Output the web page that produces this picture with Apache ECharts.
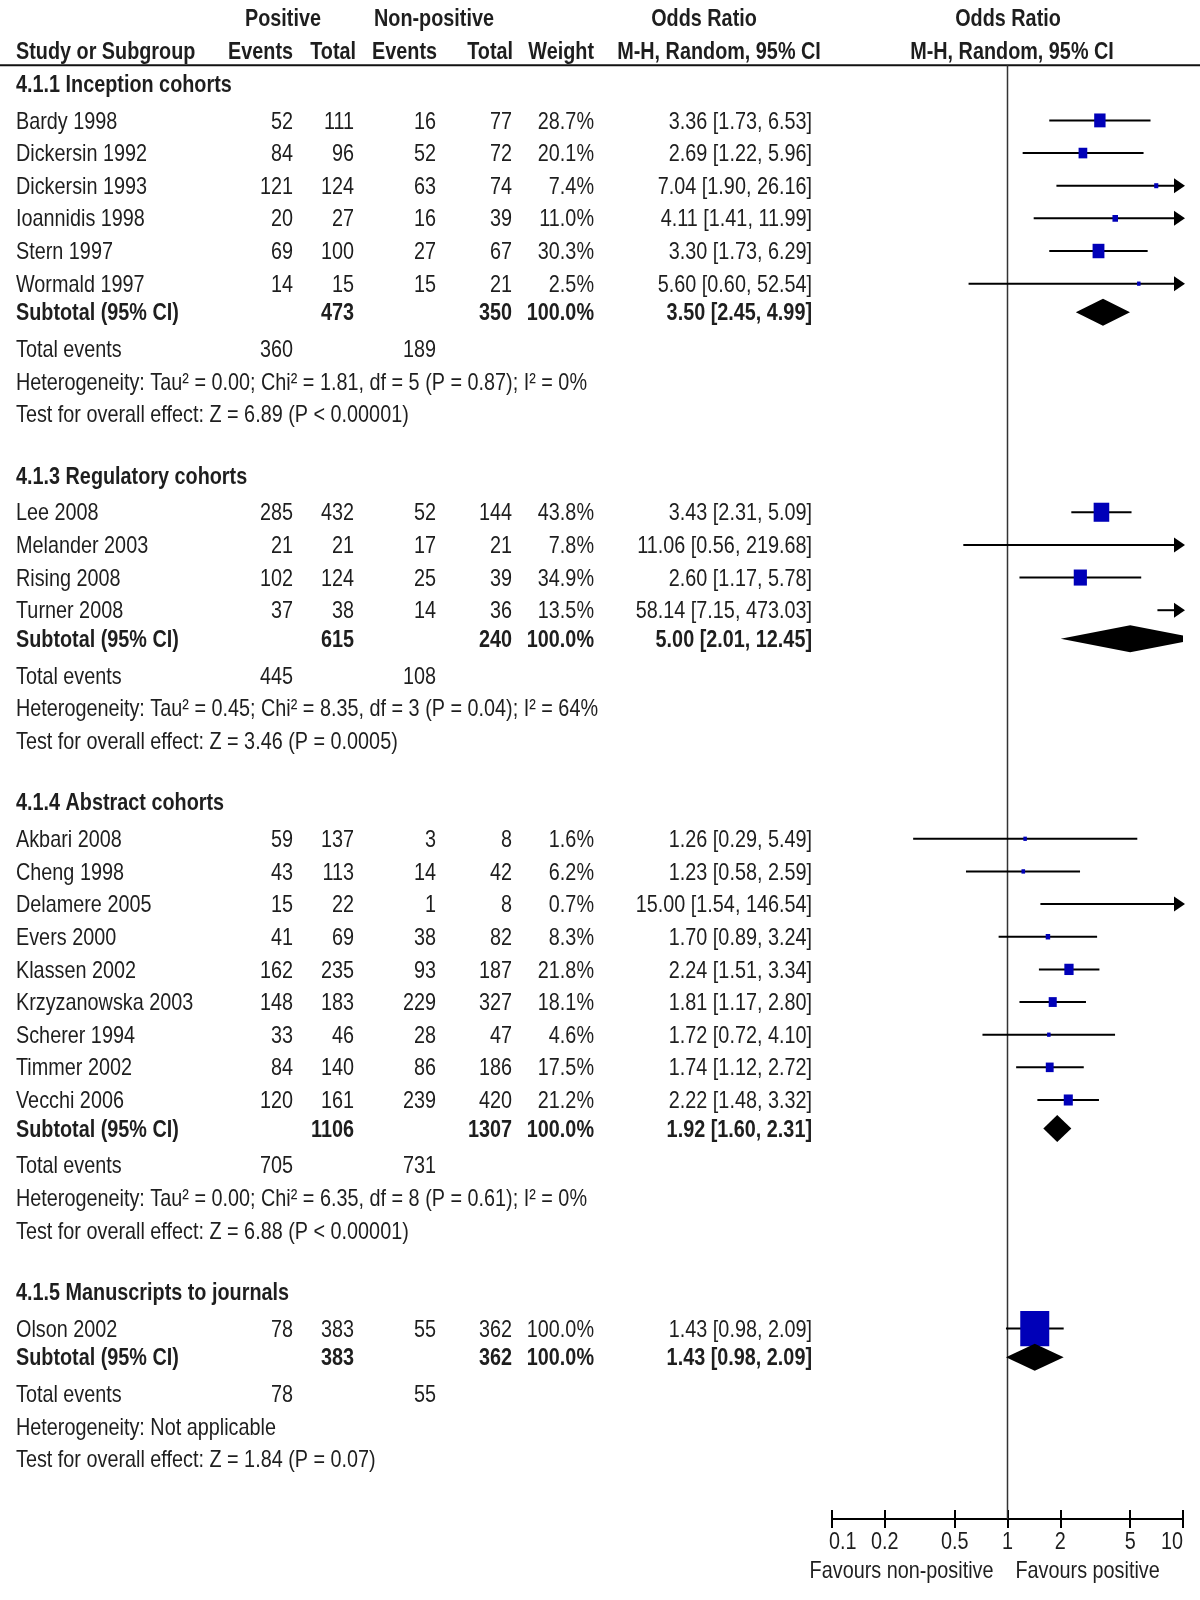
<!DOCTYPE html>
<html><head><meta charset="utf-8">
<script src="https://cdn.jsdelivr.net/npm/echarts@6/dist/echarts.min.js"></script>
<style>html,body{margin:0;padding:0;background:#fff}#c{width:1200px;height:1600px}</style>
</head><body><div id="c"></div>
<script>
// ---------------- data ----------------
const groupTitles = ['4.1.1 Inception cohorts', '4.1.3 Regulatory cohorts', '4.1.4 Abstract cohorts', '4.1.5 Manuscripts to journals'];
const studyNames = [
  ['Bardy 1998', 'Dickersin 1992', 'Dickersin 1993', 'Ioannidis 1998', 'Stern 1997', 'Wormald 1997'],
  ['Lee 2008', 'Melander 2003', 'Rising 2008', 'Turner 2008'],
  ['Akbari 2008', 'Cheng 1998', 'Delamere 2005', 'Evers 2000', 'Klassen 2002', 'Krzyzanowska 2003', 'Scherer 1994', 'Timmer 2002', 'Vecchi 2006'],
  ['Olson 2002']
];
const posEvents = [[52, 84, 121, 20, 69, 14], [285, 21, 102, 37], [59, 43, 15, 41, 162, 148, 33, 84, 120], [78]];
const posTotal  = [[111, 96, 124, 27, 100, 15], [432, 21, 124, 38], [137, 113, 22, 69, 235, 183, 46, 140, 161], [383]];
const negEvents = [[16, 52, 63, 16, 27, 15], [52, 17, 25, 14], [3, 14, 1, 38, 93, 229, 28, 86, 239], [55]];
const negTotal  = [[77, 72, 74, 39, 67, 21], [144, 21, 39, 36], [8, 42, 8, 82, 187, 327, 47, 186, 420], [362]];
const weights   = [[28.7, 20.1, 7.4, 11.0, 30.3, 2.5], [43.8, 7.8, 34.9, 13.5], [1.6, 6.2, 0.7, 8.3, 21.8, 18.1, 4.6, 17.5, 21.2], [100.0]];
const oddsRatio = [[3.36, 2.69, 7.04, 4.11, 3.30, 5.60], [3.43, 11.06, 2.60, 58.14], [1.26, 1.23, 15.00, 1.70, 2.24, 1.81, 1.72, 1.74, 2.22], [1.43]];
const ciLower   = [[1.73, 1.22, 1.90, 1.41, 1.73, 0.60], [2.31, 0.56, 1.17, 7.15], [0.29, 0.58, 1.54, 0.89, 1.51, 1.17, 0.72, 1.12, 1.48], [0.98]];
const ciUpper   = [[6.53, 5.96, 26.16, 11.99, 6.29, 52.54], [5.09, 219.68, 5.78, 473.03], [5.49, 2.59, 146.54, 3.24, 3.34, 2.80, 4.10, 2.72, 3.32], [2.09]];
const subPosTotal = [473, 615, 1106, 383];
const subNegTotal = [350, 240, 1307, 362];
const subWeight   = [100.0, 100.0, 100.0, 100.0];
const subOR       = [3.50, 5.00, 1.92, 1.43];
const subLower    = [2.45, 2.01, 1.60, 0.98];
const subUpper    = [4.99, 12.45, 2.31, 2.09];
const totPosEvents = [360, 445, 705, 78];
const totNegEvents = [189, 108, 731, 55];
const heterogeneity = [
  'Heterogeneity: Tau² = 0.00; Chi² = 1.81, df = 5 (P = 0.87); I² = 0%',
  'Heterogeneity: Tau² = 0.45; Chi² = 8.35, df = 3 (P = 0.04); I² = 64%',
  'Heterogeneity: Tau² = 0.00; Chi² = 6.35, df = 8 (P = 0.61); I² = 0%',
  'Heterogeneity: Not applicable'
];
const overallEffect = [
  'Test for overall effect: Z = 6.89 (P < 0.00001)',
  'Test for overall effect: Z = 3.46 (P = 0.0005)',
  'Test for overall effect: Z = 6.88 (P < 0.00001)',
  'Test for overall effect: Z = 1.84 (P = 0.07)'
];
const headerTop = ['Positive', 'Non-positive', 'Odds Ratio', 'Odds Ratio'];
const headerCols = ['Study or Subgroup', 'Events', 'Total', 'Events', 'Total', 'Weight', 'M-H, Random, 95% CI', 'M-H, Random, 95% CI'];
const axisTicks = [0.1, 0.2, 0.5, 1, 2, 5, 10];
const axisTickLabels = ['0.1', '0.2', '0.5', '1', '2', '5', '10'];
const favourLabels = ['Favours non-positive', 'Favours positive'];
const nullValue = 1;

// ---------------- layout ----------------
const XMIN = 0.1, XMAX = 10;
const Y0 = -3.6875, Y1 = 45.3125, H = 1600, PXU = H / (Y1 - Y0);
const rowToPx = r => (r - Y0) * PXU;
const HEAD1_ROW = -3.125, HEAD2_ROW = -2.125, HEADLINE_ROW = -1.6875, AXIS_ROW = 42.83, TICKLABEL_ROW = 43.5, FAV_ROW = 44.38;
const COL = {name: 16, posEv: 293, posTot: 354, negEv: 436, negTot: 512, weight: 594, or: 812};
const HEAD_TOP_X = [283, 434, 704, 1008];
const HEAD_COL = [[16, 'left'], [293, 'right'], [356, 'right'], [437, 'right'], [513, 'right'], [594, 'right'], [719, 'center'], [1012, 'center']];
const TEXT_COLOR = '#1e1e1e';
const FS = 24;
const TEXT_DY = 1.5;

function fontAvailable(name) {
  const c = document.createElement('canvas').getContext('2d');
  const s = 'abcdefghijklmnopqrstuvwxyz0123456789ABCDEFG';
  c.font = '40px monospace'; const a = c.measureText(s).width;
  c.font = '40px "' + name + '", monospace'; const b = c.measureText(s).width;
  return Math.abs(a - b) > 0.5;
}
const HAS_NARROW = fontAvailable('Liberation Sans Narrow');
const FF = HAS_NARROW ? '"Liberation Sans Narrow"' : '"Liberation Sans", Arial, sans-serif';
const SX = (function () {
  const c = document.createElement('canvas').getContext('2d');
  c.font = FS + 'px ' + FF;
  const w = c.measureText(heterogeneity[0]).width;
  return 571 / w;
})();

// rows
const rows = [];
rows.push({kind: 'head1', row: HEAD1_ROW});
rows.push({kind: 'head2', row: HEAD2_ROW});
let s = -1;
groupTitles.forEach((t, g) => {
  const n = studyNames[g].length;
  rows.push({kind: 'title', row: s - 0.125, g});
  for (let i = 0; i < n; i++) rows.push({kind: 'study', row: s + 1 + i, g, i});
  rows.push({kind: 'subtotal', row: s + n + 0.875, g});
  rows.push({kind: 'total', row: s + n + 2, g});
  rows.push({kind: 'het', row: s + n + 3, g});
  rows.push({kind: 'test', row: s + n + 4, g});
  s += n + 6;
});
rows.push({kind: 'ticks', row: TICKLABEL_ROW});
rows.push({kind: 'fav', row: FAV_ROW});

const fmtOR = (o, l, h) => o.toFixed(2) + ' [' + l.toFixed(2) + ', ' + h.toFixed(2) + ']';

function txt(x, y, text, align, bold, size) {
  return {
    type: 'text', x: x, y: y + TEXT_DY, scaleX: SX, scaleY: 1, silent: true,
    style: {text: String(text), fill: TEXT_COLOR, font: (bold ? 'bold ' : '') + (size || FS) + 'px ' + FF,
      align: align || 'left', verticalAlign: 'middle'}
  };
}

function renderTable(params, api) {
  const r = rows[params.dataIndex];
  const y = api.coord([1, r.row])[1];
  const ch = [];
  if (r.kind === 'head1') {
    headerTop.forEach((t, k) => ch.push(txt(HEAD_TOP_X[k], y, t, 'center', true)));
  } else if (r.kind === 'head2') {
    headerCols.forEach((t, k) => ch.push(txt(HEAD_COL[k][0], y, t, HEAD_COL[k][1], true)));
  } else if (r.kind === 'title') {
    ch.push(txt(COL.name, y, groupTitles[r.g], 'left', true));
  } else if (r.kind === 'study') {
    const g = r.g, i = r.i;
    ch.push(txt(COL.name, y, studyNames[g][i], 'left'));
    ch.push(txt(COL.posEv, y, posEvents[g][i], 'right'));
    ch.push(txt(COL.posTot, y, posTotal[g][i], 'right'));
    ch.push(txt(COL.negEv, y, negEvents[g][i], 'right'));
    ch.push(txt(COL.negTot, y, negTotal[g][i], 'right'));
    ch.push(txt(COL.weight, y, weights[g][i].toFixed(1) + '%', 'right'));
    ch.push(txt(COL.or, y, fmtOR(oddsRatio[g][i], ciLower[g][i], ciUpper[g][i]), 'right'));
  } else if (r.kind === 'subtotal') {
    const g = r.g;
    ch.push(txt(COL.name, y, 'Subtotal (95% CI)', 'left', true));
    ch.push(txt(COL.posTot, y, subPosTotal[g], 'right', true));
    ch.push(txt(COL.negTot, y, subNegTotal[g], 'right', true));
    ch.push(txt(COL.weight, y, subWeight[g].toFixed(1) + '%', 'right', true));
    ch.push(txt(COL.or, y, fmtOR(subOR[g], subLower[g], subUpper[g]), 'right', true));
  } else if (r.kind === 'total') {
    ch.push(txt(COL.name, y, 'Total events', 'left'));
    ch.push(txt(COL.posEv, y, totPosEvents[r.g], 'right'));
    ch.push(txt(COL.negEv, y, totNegEvents[r.g], 'right'));
  } else if (r.kind === 'het') {
    ch.push(txt(COL.name, y, heterogeneity[r.g], 'left'));
  } else if (r.kind === 'test') {
    ch.push(txt(COL.name, y, overallEffect[r.g], 'left'));
  } else if (r.kind === 'ticks') {
    axisTicks.forEach((v, k) => {
      const x = api.coord([v, r.row])[0];
      const al = k === 0 ? 'left' : (k === axisTicks.length - 1 ? 'right' : 'center');
      ch.push(txt(x + (k === 0 ? -3 : 0), y, axisTickLabels[k], al));
    });
  } else if (r.kind === 'fav') {
    const x1 = api.coord([nullValue, r.row])[0];
    ch.push(txt(x1 - 14, y, favourLabels[0], 'right'));
    ch.push(txt(x1 + 8, y, favourLabels[1], 'left'));
  }
  return {type: 'group', children: ch};
}

// study data for forest
const studyData = [];
const subData = [];
rows.forEach(r => {
  if (r.kind === 'study') studyData.push([oddsRatio[r.g][r.i], r.row, ciLower[r.g][r.i], ciUpper[r.g][r.i], weights[r.g][r.i]]);
  if (r.kind === 'subtotal') subData.push([subOR[r.g], r.row, subLower[r.g], subUpper[r.g]]);
});

function renderStudy(params, api) {
  const est = api.value(0), row = api.value(1), lo = api.value(2), hi = api.value(3), w = api.value(4);
  const y = api.coord([1, row])[1];
  const xl = api.coord([Math.max(lo, XMIN), row])[0];
  const xh = api.coord([Math.min(hi, XMAX), row])[0];
  const ch = [];
  const arrow = hi > XMAX;
  ch.push({type: 'line', shape: {x1: xl, y1: y, x2: arrow ? xh - 6 : xh, y2: y}, style: {stroke: '#000', lineWidth: 2}});
  if (arrow) {
    ch.push({type: 'polygon', shape: {points: [[xh + 2, y], [xh - 9, y - 7.5], [xh - 9, y + 7.5]]}, style: {fill: '#000'}});
  }
  if (est >= XMIN && est <= XMAX) {
    const sw = Math.max(3.5, 29 * Math.pow(w / 100, 0.75));
    const sh = sw * 1.22;
    const cx = api.coord([est, row])[0];
    ch.push({type: 'rect', shape: {x: cx - sw / 2, y: y - sh / 2, width: sw, height: sh}, style: {fill: '#0000b8'}});
  }
  return {type: 'group', children: ch};
}

function renderDiamond(params, api) {
  const est = api.value(0), row = api.value(1), lo = api.value(2), hi = api.value(3);
  const y = api.coord([1, row])[1];
  const hh = 13.5;
  const pl = api.coord([lo, row])[0], pe = api.coord([est, row])[0], ph = api.coord([hi, row])[0];
  return {type: 'polygon', shape: {points: [[pl, y], [pe, y - hh], [ph, y], [pe, y + hh]]}, style: {fill: '#000'}};
}

function renderNull(params, api) {
  const x = api.coord([api.value(0), HEADLINE_ROW])[0];
  return {type: 'line', shape: {x1: x, y1: rowToPx(HEADLINE_ROW), x2: x, y2: rowToPx(AXIS_ROW)}, style: {stroke: '#333', lineWidth: 1.5}};
}

const axisOffset = -(H - rowToPx(AXIS_ROW));
const chart = echarts.init(document.getElementById('c'), null, {renderer: 'canvas'});
chart.setOption({
  backgroundColor: '#fff',
  animation: false,
  grid: {left: 832, right: 17, top: 0, bottom: 0},
  xAxis: [
    {type: 'log', logBase: 10, min: XMIN, max: XMAX, position: 'bottom', offset: axisOffset,
      axisLine: {show: true, onZero: false, lineStyle: {color: '#000', width: 2}},
      axisTick: {show: true, length: 9, customValues: axisTicks, lineStyle: {color: '#000', width: 2}},
      axisLabel: {show: false},
      splitLine: {show: false}, minorTick: {show: false}},
    {type: 'log', logBase: 10, min: XMIN, max: XMAX, position: 'bottom', offset: axisOffset,
      axisLine: {show: false, onZero: false},
      axisTick: {show: true, inside: true, length: 9, customValues: axisTicks, lineStyle: {color: '#000', width: 2}},
      axisLabel: {show: false}, splitLine: {show: false}}
  ],
  yAxis: {type: 'value', inverse: true, min: Y0, max: Y1, show: false},
  graphic: [{type: 'line', shape: {x1: 0, y1: rowToPx(HEADLINE_ROW), x2: 1200, y2: rowToPx(HEADLINE_ROW)}, style: {stroke: '#111', lineWidth: 2}}],
  series: [
    {type: 'custom', name: 'null', renderItem: renderNull, data: [[nullValue, HEADLINE_ROW]], encode: {x: 0, y: 1}, silent: true, z: 1},
    {type: 'custom', name: 'studies', renderItem: renderStudy, data: studyData, encode: {x: 0, y: 1}, clip: false, z: 3},
    {type: 'custom', name: 'subtotals', renderItem: renderDiamond, data: subData, encode: {x: 0, y: 1}, clip: true, z: 3},
    {type: 'custom', name: 'table', renderItem: renderTable, data: rows.map(r => [1, r.row]), encode: {x: 0, y: 1}, clip: false, z: 4}
  ]
});
</script>
</body></html>
